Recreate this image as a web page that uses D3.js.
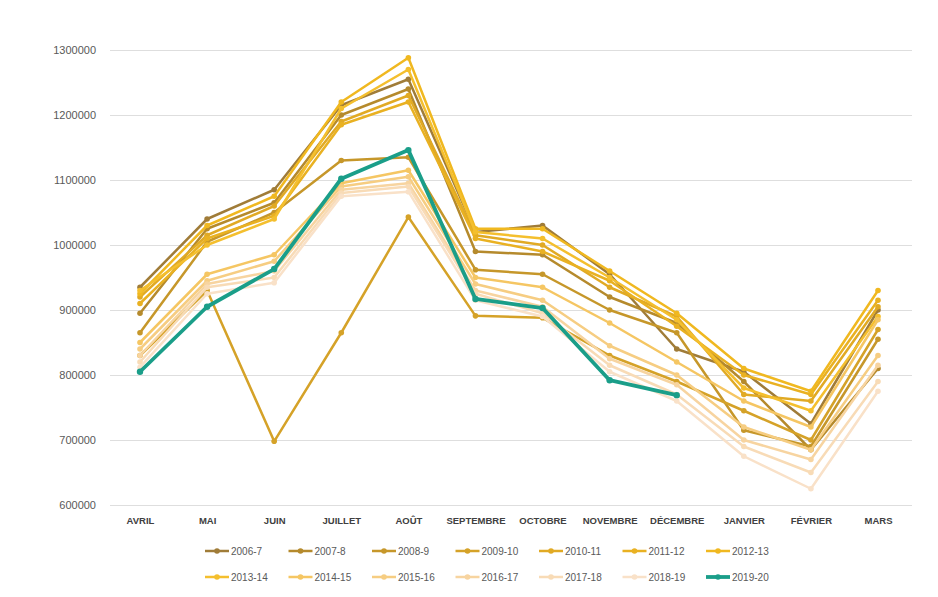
<!DOCTYPE html>
<html>
<head>
<meta charset="utf-8">
<script src="https://cdn.jsdelivr.net/npm/d3@7"></script>
<style>
  html, body { margin: 0; padding: 0; background: #ffffff; }
  svg { display: block; }
</style>
</head>
<body>
<svg id="chart" width="938" height="597"></svg>
<script>
// Monthly totals per season (April to March)
const months = ["AVRIL", "MAI", "JUIN", "JUILLET", "AOÛT", "SEPTEMBRE", "OCTOBRE",
                "NOVEMBRE", "DÉCEMBRE", "JANVIER", "FÉVRIER", "MARS"];

const seasons = ["2006-7", "2007-8", "2008-9", "2009-10", "2010-11", "2011-12", "2012-13",
                 "2013-14", "2014-15", "2015-16", "2016-17", "2017-18", "2018-19", "2019-20"];

const s2006 = [935000, 1040000, 1085000, 1215000, 1255000, 1020000, 1030000, 955000, 840000, 805000, 725000, 900000];
const s2007 = [895000, 1025000, 1065000, 1200000, 1240000, 990000, 985000, 920000, 880000, 790000, 685000, 810000];
const s2008 = [865000, 1005000, 1050000, 1130000, 1135000, 962000, 955000, 900000, 865000, 715000, 690000, 855000];
const s2009 = [830000, 930000, 698000, 865000, 1043000, 891000, 888000, 830000, 790000, 745000, 700000, 870000];
const s2010 = [920000, 1015000, 1060000, 1190000, 1230000, 1015000, 1000000, 935000, 890000, 770000, 760000, 905000];
const s2011 = [910000, 1010000, 1045000, 1185000, 1220000, 1010000, 990000, 945000, 875000, 800000, 770000, 915000];
const s2012 = [925000, 1030000, 1075000, 1220000, 1288000, 1025000, 1025000, 960000, 895000, 810000, 775000, 930000];
const s2013 = [930000, 1000000, 1040000, 1210000, 1270000, 1020000, 1010000, 950000, 885000, 780000, 745000, 890000];
const s2014 = [850000, 955000, 985000, 1095000, 1115000, 950000, 935000, 880000, 820000, 760000, 720000, 885000];
const s2015 = [840000, 945000, 975000, 1090000, 1105000, 940000, 915000, 845000, 800000, 720000, 685000, 830000];
const s2016 = [830000, 940000, 960000, 1085000, 1095000, 930000, 905000, 825000, 785000, 700000, 670000, 815000];
const s2017 = [820000, 935000, 950000, 1080000, 1090000, 925000, 895000, 815000, 770000, 690000, 650000, 790000];
const s2018 = [812000, 925000, 942000, 1075000, 1082000, 915000, 890000, 805000, 760000, 675000, 625000, 775000];
const s2019 = [805000, 905000, 963000, 1102000, 1146000, 917000, 903000, 792000, 769000, null, null, null];

const yTicks = [600000, 700000, 800000, 900000, 1000000, 1100000, 1200000, 1300000];

const seriesValues = [s2006, s2007, s2008, s2009, s2010, s2011, s2012,
                      s2013, s2014, s2015, s2016, s2017, s2018, s2019];

const colors = ["#a07c38", "#b58a2c", "#c6972a", "#d5a228", "#e1aa24", "#e9b122", "#f0b820",
                "#f4bf2e", "#f5c663", "#f6cd82", "#f7d4a0", "#f8dbb6", "#f9e1c8", "#1a9e89"];

const series = seasons.map((name, i) => ({
  name,
  color: colors[i],
  width: i === 13 ? 3.8 : 2.5,
  values: seriesValues[i].map((v, j) => ({ month: months[j], value: v }))
}));

const svg = d3.select("#chart");

const x = d3.scalePoint().domain(months).range([140, 878]);
const y = d3.scaleLinear().domain([600000, 1300000]).range([505, 50]);

// Horizontal gridlines and value labels
const yAxis = d3.axisLeft(y)
  .tickValues(yTicks)
  .tickFormat(d3.format("d"))
  .tickSize(-(912 - 110))
  .tickPadding(14);

const gy = svg.append("g")
  .attr("transform", "translate(110,0)")
  .call(yAxis);
gy.select(".domain").remove();
gy.selectAll(".tick line").attr("stroke", "#dedede").attr("stroke-width", 1);
gy.selectAll(".tick text")
  .attr("fill", "#595959")
  .attr("font-family", "Liberation Sans, Arial, sans-serif")
  .attr("font-size", 11);

// Month labels
const xAxis = d3.axisBottom(x).tickSize(0).tickPadding(12);
const gx = svg.append("g")
  .attr("transform", "translate(0,505)")
  .call(xAxis);
gx.select(".domain").remove();
gx.selectAll(".tick text")
  .attr("fill", "#404040")
  .attr("font-family", "Liberation Sans, Arial, sans-serif")
  .attr("font-weight", "bold")
  .attr("font-size", 9.5);

// Lines with markers
const line = d3.line()
  .defined(d => d.value != null)
  .x(d => x(d.month))
  .y(d => y(d.value));

const gSeries = svg.append("g")
  .selectAll("g")
  .data(series)
  .join("g");

gSeries.append("path")
  .attr("fill", "none")
  .attr("stroke", d => d.color)
  .attr("stroke-width", d => d.width)
  .attr("stroke-linejoin", "round")
  .attr("d", d => line(d.values));

gSeries.selectAll("circle")
  .data(d => d.values.filter(p => p.value != null).map(p => ({ ...p, s: d })))
  .join("circle")
  .attr("cx", d => x(d.month))
  .attr("cy", d => y(d.value))
  .attr("r", d => d.s.name === "2019-20" ? 3.2 : 2.8)
  .attr("fill", d => d.s.color);

// Legend in two rows of seven
const legend = svg.append("g");
const items = legend.selectAll("g")
  .data(series)
  .join("g")
  .attr("transform", (d, i) => `translate(${205 + (i % 7) * 83.5},${i < 7 ? 551 : 577})`);

items.append("line")
  .attr("x1", 0).attr("x2", 24)
  .attr("stroke", d => d.color)
  .attr("stroke-width", d => d.width);
items.append("circle")
  .attr("cx", 12).attr("r", 2.8)
  .attr("fill", d => d.color);
items.append("text")
  .attr("x", 26)
  .attr("dy", "0.35em")
  .attr("fill", "#595959")
  .attr("font-family", "Liberation Sans, Arial, sans-serif")
  .attr("font-size", 10)
  .text(d => d.name);
</script>
</body>
</html>
